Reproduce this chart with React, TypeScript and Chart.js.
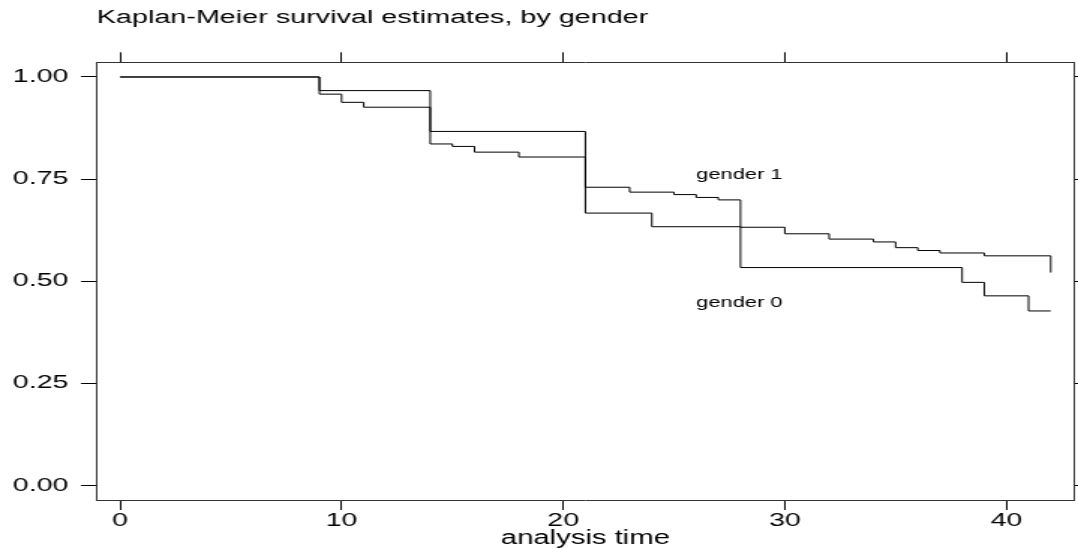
import React, { useEffect, useRef } from 'react';
import { Chart, registerables } from 'chart.js';

Chart.register(...registerables);

// ---- data ----
const TITLE = 'Kaplan-Meier survival estimates, by gender';
const X_TITLE = 'analysis time';
const X_TICKS = [0, 10, 20, 30, 40];
const Y_TICKS = [0, 0.25, 0.5, 0.75, 1];

const G0_TIME = [0, 9, 14, 21, 24, 28, 38, 39, 41, 42];
const G0_SURV = [1, 0.9667, 0.8667, 0.6667, 0.6333, 0.5333, 0.497, 0.464, 0.427, 0.427];

const G1_TIME = [0, 9, 10, 11, 14, 15, 16, 18, 21, 23, 25, 26, 27, 28, 30, 32, 34, 35, 36, 37, 39, 42];
const G1_SURV = [1, 0.958, 0.938, 0.926, 0.836, 0.83, 0.816, 0.804, 0.73, 0.718, 0.712, 0.705, 0.699, 0.632, 0.616, 0.603, 0.596, 0.582, 0.575, 0.569, 0.562, 0.521];

const SERIES_LABELS = ['gender 0', 'gender 1'];
const LABEL_X = [26, 26];
const LABEL_Y = [0.446, 0.7605];

const X_MIN = -1.05;
const X_MAX = 43.05;
const Y_MIN = -0.036;
const Y_MAX = 1.036;

// ---- rendering constants ----
const CANVAS_W = 719; // drawn narrow then stretched horizontally like the reference
const CANVAS_H = 548;
const CSS_W = 1078;
const FONT = '"Liberation Sans", Arial, Helvetica, sans-serif';
const BORDER = '#333';
const TITLE_SIZE = 19.2;
const TITLE_PAD_TOP = 18 - TITLE_SIZE / 2;

const labelPlugin = {
  id: 'curveLabels',
  afterDatasetsDraw(chart: any) {
    const { ctx, scales } = chart;
    ctx.save();
    ctx.font = `14.6px ${FONT}`;
    ctx.fillStyle = '#000';
    ctx.textAlign = 'left';
    ctx.textBaseline = 'middle';
    SERIES_LABELS.forEach((t, i) => {
      ctx.fillText(t, scales.x.getPixelForValue(LABEL_X[i]), scales.y.getPixelForValue(LABEL_Y[i]));
    });
    ctx.restore();
  },
};

const toPoints = (xs: number[], ys: number[]) => xs.map((x, i) => ({ x, y: ys[i] }));

export default function App() {
  const ref = useRef<HTMLCanvasElement | null>(null);

  useEffect(() => {
    document.body.style.margin = '0';
    const canvas = ref.current;
    if (!canvas) return;

    const tickGrid = (len: number) => ({
      drawOnChartArea: false,
      drawTicks: true,
      tickLength: len,
      tickColor: '#000',
      tickWidth: 1,
    });
    const border = { display: true, color: BORDER, width: 1 };
    const setX = (s: any) => {
      s.ticks = X_TICKS.map((v) => ({ value: v }));
    };
    const setY = (s: any) => {
      s.ticks = Y_TICKS.map((v) => ({ value: v }));
    };

    const chart = new Chart(canvas, {
      type: 'line',
      data: {
        datasets: [
          {
            label: SERIES_LABELS[0],
            data: toPoints(G0_TIME, G0_SURV),
            borderColor: '#000',
            borderWidth: 1,
            pointRadius: 0,
            stepped: 'before',
            fill: false,
          },
          {
            label: SERIES_LABELS[1],
            data: toPoints(G1_TIME, G1_SURV),
            borderColor: '#000',
            borderWidth: 1,
            pointRadius: 0,
            stepped: 'before',
            fill: false,
          },
        ],
      },
      options: {
        animation: false,
        responsive: false,
        devicePixelRatio: 1,
        layout: { padding: 0 },
        plugins: {
          legend: { display: false },
          tooltip: { enabled: false },
          title: {
            display: true,
            text: TITLE,
            align: 'start',
            fullSize: false,
            color: '#000',
            font: { family: FONT, size: TITLE_SIZE, weight: 'normal', lineHeight: 1 },
            padding: { top: TITLE_PAD_TOP, bottom: 0 },
          },
        },
        scales: {
          x: {
            type: 'linear',
            position: 'bottom',
            min: X_MIN,
            max: X_MAX,
            afterBuildTicks: setX,
            afterFit: (s: any) => {
              s.height = 48;
            },
            ticks: {
              color: '#000',
              font: { family: FONT, size: 19, lineHeight: 1 },
              padding: 1,
              maxRotation: 0,
              autoSkip: false,
              callback: (v: any) => String(v),
            },
            grid: tickGrid(10),
            border,
            title: {
              display: true,
              text: X_TITLE,
              color: '#000',
              font: { family: FONT, size: 19.5, lineHeight: 1 },
              padding: 0,
            },
          },
          x2: {
            type: 'linear',
            position: 'top',
            min: X_MIN,
            max: X_MAX,
            afterBuildTicks: setX,
            afterFit: (s: any) => {
              s.height = 62.3 - (TITLE_PAD_TOP + TITLE_SIZE);
            },
            ticks: { display: false },
            grid: tickGrid(10),
            border,
          },
          y: {
            type: 'linear',
            position: 'left',
            min: Y_MIN,
            max: Y_MAX,
            afterBuildTicks: setY,
            afterFit: (s: any) => {
              s.width = 64.5;
            },
            ticks: {
              color: '#000',
              font: { family: FONT, size: 19, lineHeight: 1 },
              padding: 8.4,
              callback: (v: any) => Number(v).toFixed(2),
            },
            grid: tickGrid(10.5),
            border,
          },
          y2: {
            type: 'linear',
            position: 'right',
            min: Y_MIN,
            max: Y_MAX,
            afterBuildTicks: setY,
            afterFit: (s: any) => {
              s.width = CANVAS_W - 1074 / (CSS_W / CANVAS_W);
            },
            ticks: { display: false },
            grid: tickGrid(10),
            border,
          },
        },
      },
      plugins: [labelPlugin],
    } as any);

    return () => chart.destroy();
  }, []);

  return (
    <div style={{ width: CSS_W, height: CANVAS_H }}>
      <canvas
        ref={ref}
        width={CANVAS_W}
        height={CANVAS_H}
        style={{ width: `${CSS_W}px`, height: `${CANVAS_H}px`, display: 'block' }}
      />
    </div>
  );
}
